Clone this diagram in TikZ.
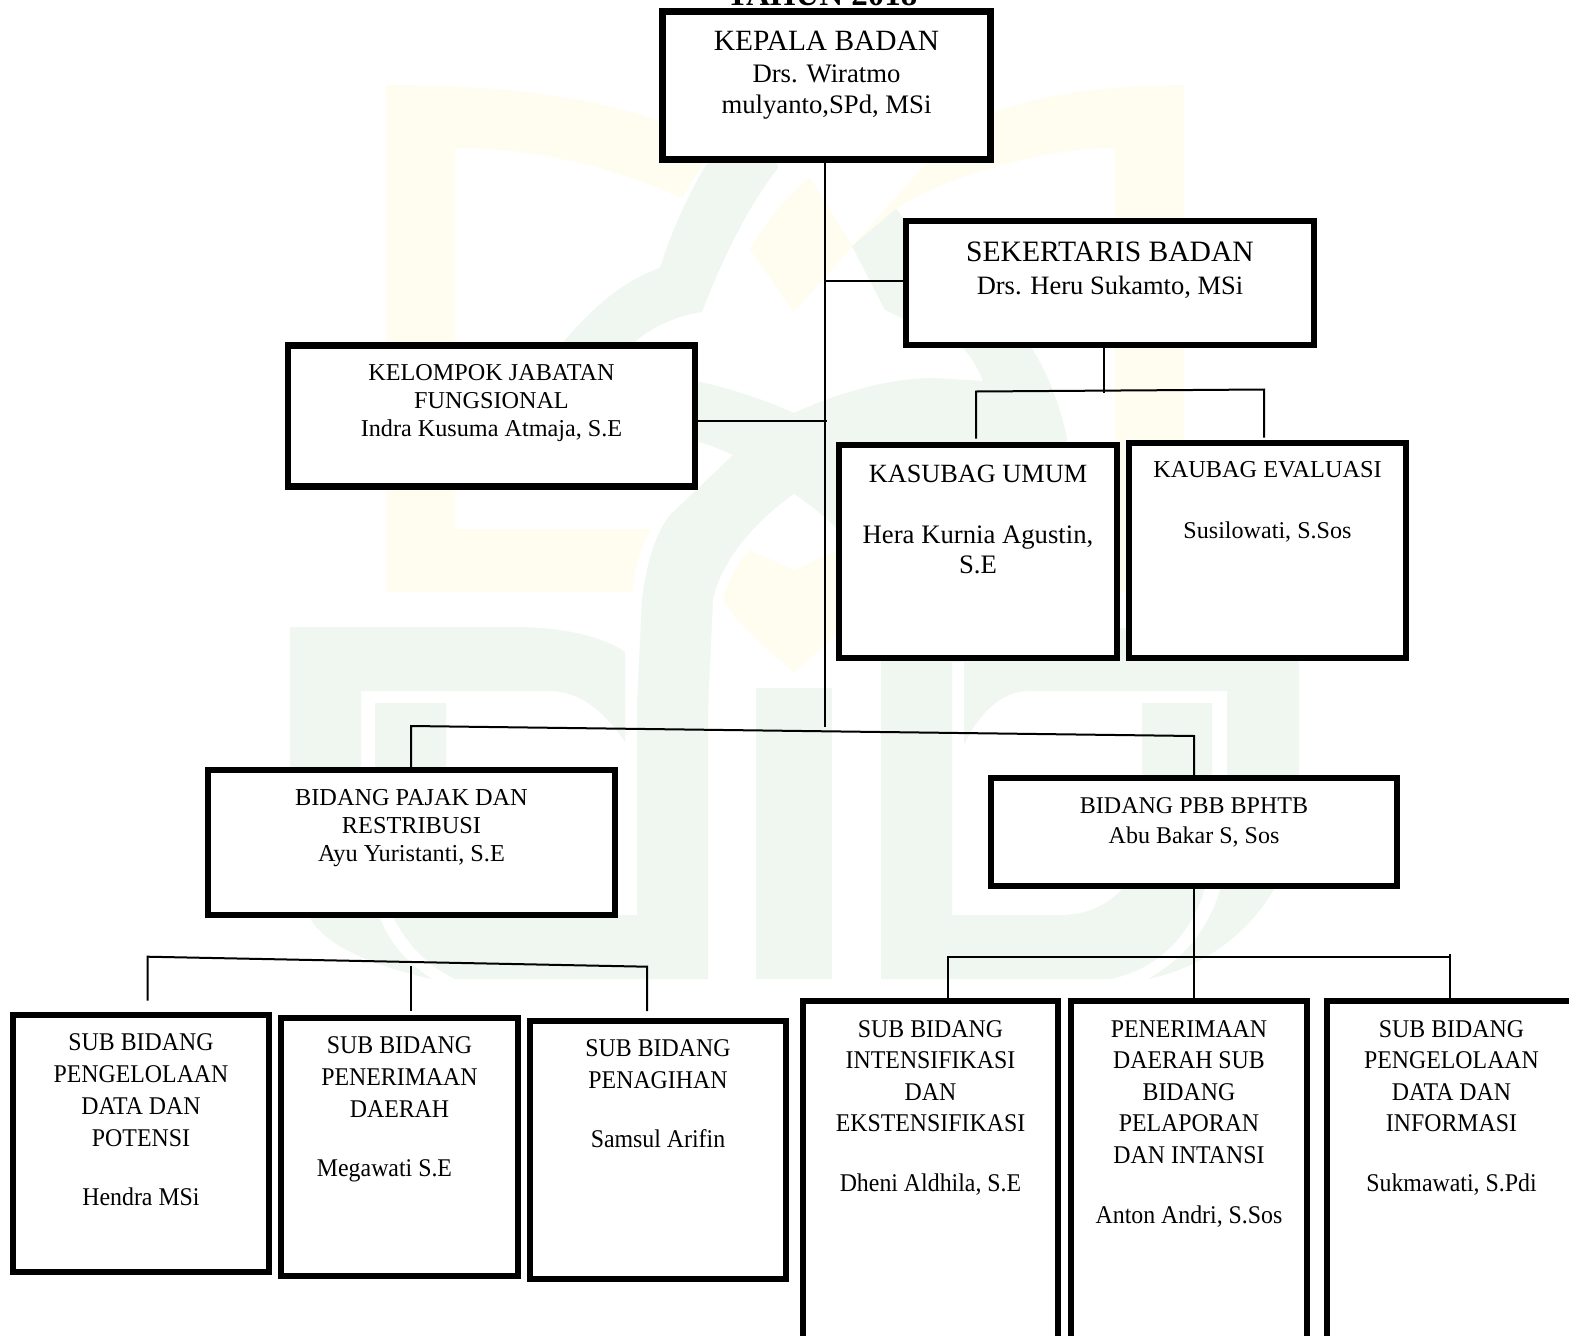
\documentclass[tikz,border=0pt]{standalone}
\usepackage{fontspec}
\setmainfont{Liberation Serif}
\newfontfamily\condfont[FakeStretch=0.935]{Liberation Serif}
\definecolor{wmgreen}{HTML}{EFF7F0}
\definecolor{wmyellow}{HTML}{FFFDF0}
\tikzset{
  orgnode/.style={draw=black,fill=white,inner sep=0pt,outer sep=0pt,line join=miter},
  conn/.style={draw=black,line width=2pt,line join=miter},
  wmg/.style={fill=wmgreen,draw=none},
  wmy/.style={fill=wmyellow,draw=none}
}
\newcommand{\fs}[2]{{\fontsize{#1}{#1}\selectfont #2}}
\newcommand{\orgbox}[8][6.5]{%
  \pgfmathsetmacro\bw{#5-#3}\pgfmathsetmacro\bh{#6-#4}%
  \pgfmathsetmacro\cx{(#3+#5)/2}\pgfmathsetmacro\cy{(#4+#6)/2}%
  \pgfmathsetmacro\dd{#7-#4-30}%
  \node[orgnode,line width=#1pt] (#2) at (\cx,\cy)
    {\parbox[t][\bh pt][t]{\bw pt}{\centering\vspace*{\dd pt}\leavevmode\rule{0pt}{30pt}#8\par}};%
}
\begin{document}
\begin{tikzpicture}[x=1pt,y=-1pt]
\useasboundingbox (0,0) rectangle (1569,1336);
\clip (0,0) rectangle (1569,1336);
\fill[white] (0,0) rectangle (1569,1336);
% watermark: yellow frame
\path[wmy] (386,85) .. controls (500,85) and (620,95) .. (715,145) -- (682,198)
  .. controls (620,170) and (540,148) .. (455,148) -- (455,529) -- (652,529)
  .. controls (640,545) and (635,570) .. (632,592) -- (386,592) -- cycle;
\path[wmy] (1184,85) .. controls (1100,85) and (1030,95) .. (960,125) -- (794,312) -- (750,249)
  .. controls (765,225) and (785,195) .. (810,178) -- (852,246)
  -- (896,209) .. controls (930,185) and (1030,148) .. (1115,148) -- (1115,529) -- (1000,529) -- (1000,592) -- (1184,592) -- cycle;
\path[wmy] (750,249) -- (794,312) -- (852,246) -- (810,178) -- cycle;
% watermark: green dome and arch
\path[wmg] (642,600) .. controls (646,565) and (655,535) .. (669,516) -- (733,455)
  .. controls (722,450) and (710,445) .. (699,442) -- (525,438)
  .. controls (530,400) and (545,365) .. (565,340)
  .. controls (595,305) and (625,280) .. (660,268)
  .. controls (672,230) and (688,195) .. (706,165) -- (770,120) -- (778,168)
  .. controls (745,210) and (720,265) .. (702,312)
  .. controls (680,315) and (655,325) .. (637,340) -- (605,381) -- (696,381)
  .. controls (730,388) and (765,400) .. (794,413)
  .. controls (840,392) and (890,378) .. (935,378) -- (983,381)
  .. controls (978,368) and (970,355) .. (962,347) -- (885,310) -- (852,246) -- (896,209)
  -- (930,250) -- (1033,350) .. controls (1048,375) and (1060,405) .. (1067,438)
  -- (1040,662) -- (952,662) -- (952,705) -- (637,705) -- cycle;
\path[fill=white] (708,710) -- (713,600) .. controls (720,565) and (750,525) .. (794,494)
  .. controls (840,525) and (875,565) .. (881,600) -- (881,710) -- cycle;
\path[wmy] (723,600) .. controls (728,580) and (738,562) .. (750,550) -- (794,570) -- (838,550)
  .. controls (850,562) and (860,580) .. (865,600) .. controls (850,625) and (820,650) .. (794,672)
  .. controls (768,650) and (738,625) .. (723,600) -- cycle;
% watermark: letters
\path[wmg] (290,627) -- (513,627) .. controls (560,627) and (600,635) .. (625,652) -- (625,742)
  .. controls (605,712) and (580,691) .. (550,691) -- (361,691) -- (361,860)
  .. controls (362,885) and (370,905) .. (380,918) .. controls (390,945) and (410,965) .. (432,979)
  .. controls (370,965) and (325,945) .. (310,918) .. controls (295,890) and (290,860) .. (290,790) -- cycle;
\path[wmg] (375,703) -- (446,703) -- (446,915) -- (637,915) -- (637,700) -- (708,700) -- (708,979)
  -- (455,979) .. controls (415,960) and (385,920) .. (375,860) -- cycle;
\path[wmg] (756,688) rectangle (832,979);
\path[wmg] (881,662) -- (952,662) -- (952,915) -- (1060,915)
  .. controls (1110,915) and (1142,880) .. (1142,830) -- (1142,703) -- (1212,703) -- (1212,840)
  .. controls (1212,900) and (1180,965) .. (1110,979) -- (881,979) -- cycle;
\path[wmg] (964,628) -- (1299,628) -- (1299,800) .. controls (1299,880) and (1240,960) .. (1148,979)
  .. controls (1200,950) and (1227,900) .. (1227,840) -- (1227,691) -- (1030,691)
  .. controls (1000,691) and (978,715) .. (964,745) -- cycle;
% title, cut off by the page top
\node[anchor=base,inner sep=0pt] (title) at (822,5) {\fontsize{33}{33}\selectfont\bfseries TAHUN 2018};
% boxes
\orgbox{kepala}{662.5}{11.5}{990.5}{159.5}{50.5}{\fontsize{26.7}{31.5}\selectfont\fs{29.4}{KEPALA BADAN}\\Drs. Wiratmo\\mulyanto,SPd, MSi}
\orgbox{sek}{906}{221}{1314}{345}{261}{\fontsize{26.5}{33}\selectfont\fs{29.6}{SEKERTARIS BADAN}\\Drs. Heru Sukamto, MSi}
\orgbox{kel}{288}{345.5}{695}{486.5}{380}{\fontsize{24.2}{28.2}\selectfont KELOMPOK JABATAN\\FUNGSIONAL\\Indra Kusuma Atmaja, S.E}
\orgbox{kasubag}{839}{445}{1117}{658}{482}{\fontsize{26.7}{30}\selectfont\fs{26.3}{KASUBAG UMUM}\\[31.5pt]Hera Kurnia Agustin,\\S.E}
\orgbox{kaubag}{1129}{443}{1406}{658}{477.5}{\fontsize{24.1}{30}\selectfont\fs{24.3}{KAUBAG EVALUASI}\\[31pt]Susilowati, S.Sos}
\orgbox{pajak}{208}{770}{615}{915}{805}{\fontsize{24.3}{28}\selectfont BIDANG PAJAK DAN\\RESTRIBUSI\\Ayu Yuristanti, S.E}
\orgbox{pbb}{991}{778}{1397}{886}{813}{\fontsize{24}{30}\selectfont BIDANG PBB BPHTB\\Abu Bakar S, Sos}
\orgbox{subA}{13}{1015}{269}{1272}{1050}{\condfont\fontsize{25.5}{32}\selectfont SUB BIDANG\\PENGELOLAAN\\DATA DAN\\POTENSI\\[27pt]Hendra MSi}
\orgbox{subB}{281}{1018}{518}{1276}{1053}{\condfont\fontsize{25.5}{32}\selectfont SUB BIDANG\\PENERIMAAN\\DAERAH\\[27pt]\hspace*{-30pt}Megawati S.E}
\orgbox{subC}{530}{1021}{786}{1279}{1056}{\condfont\fontsize{25.5}{32.5}\selectfont SUB BIDANG\\PENAGIHAN\\[26pt]Samsul Arifin}
\orgbox{subD}{803}{1001}{1058}{1400}{1037}{\condfont\fontsize{25.5}{31.6}\selectfont SUB BIDANG\\INTENSIFIKASI\\DAN\\EKSTENSIFIKASI\\[28pt]Dheni Aldhila, S.E}
\orgbox{subE}{1071}{1001}{1307}{1400}{1037}{\condfont\fontsize{25.5}{31.6}\selectfont PENERIMAAN\\DAERAH SUB\\BIDANG\\PELAPORAN\\DAN INTANSI\\[28pt]Anton Andri, S.Sos}
\orgbox{subF}{1327}{1001}{1576}{1400}{1037}{\condfont\fontsize{25.5}{31.6}\selectfont SUB BIDANG\\PENGELOLAAN\\DATA DAN\\INFORMASI\\[28pt]Sukmawati, S.Pdi}
% junction coordinates
\coordinate (mainEnd) at (824.5,727);
\coordinate (jSek) at (826,280.5);
\coordinate (jKel) at (827,421);
\coordinate (secJ) at (1103.5,392.5);
\coordinate (secL) at (976,391.5);
\coordinate (secR) at (1264,389.5);
\coordinate (secLe) at (976,438.5);
\coordinate (secRe) at (1264,437.5);
\coordinate (bidL) at (411,726);
\coordinate (bidR) at (1194,736);
\coordinate (leftL) at (147.5,956.7);
\coordinate (leftLe) at (147.5,1000.7);
\coordinate (leftR) at (647,966.7);
\coordinate (leftRe) at (647,1011);
\coordinate (leftMt) at (411,966);
\coordinate (leftMe) at (411,1011);
\coordinate (rightL) at (947.5,956.7);
\coordinate (rightR) at (1450,956.7);
\coordinate (rightRt) at (1450,954);
% connectors
\draw[conn] (kepala.south -| mainEnd) -- (mainEnd);
\draw[conn] (jSek) -- (sek.west |- jSek);
\draw[conn] (kel.east |- jKel) -- (jKel);
\draw[conn] (sek.south -| secJ) -- (secJ);
\draw[conn] (secLe) -- (secL) -- (secR) -- (secRe);
\draw[conn] (pajak.north -| bidL) -- (bidL) -- (bidR) -- (pbb.north -| bidR);
\draw[conn] (leftLe) -- (leftL) -- (leftR) -- (leftRe);
\draw[conn] (leftMt) -- (leftMe);
\draw[conn] (pbb.south) -- (pbb.south |- subE.north);
\draw[conn] (subD.north -| rightL) -- (rightL) -- (rightR);
\draw[conn] (rightRt) -- (subF.north -| rightRt);
\end{tikzpicture}
\end{document}
